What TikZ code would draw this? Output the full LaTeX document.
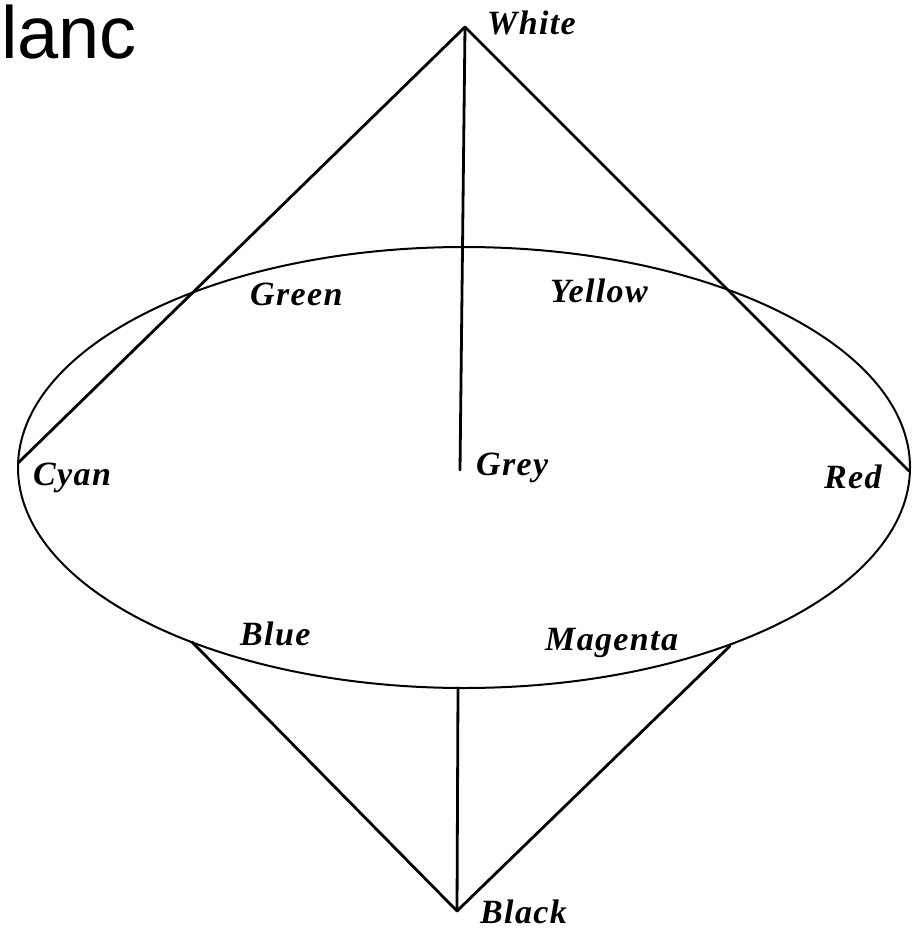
\documentclass[tikz,border=0pt]{standalone}
\usepackage{fontspec}
\setmainfont{Liberation Serif}
\newfontfamily\headfont{Liberation Sans}
\begin{document}
\begin{tikzpicture}[x=1pt,y=-1pt,
  lbl/.style={anchor=base west,inner sep=0pt,font=\fontsize{34}{34}\selectfont\bfseries\itshape\addfontfeatures{LetterSpace=4}},
  edge/.style={line width=2.8pt,line cap=round,line join=round},
  rim/.style={line width=2pt}]
\useasboundingbox (0,0) rectangle (912,929);
% points
\coordinate (white) at (465,27);
\coordinate (grey) at (460,470);
\coordinate (cyan) at (18,463);
\coordinate (red) at (909,471);
\coordinate (blue) at (192,642);
\coordinate (magenta) at (730,646);
\coordinate (bottom) at (458,688);
\coordinate (black) at (457,911);
\coordinate (ctr) at (464,467.5);
% ellipse
\draw[rim] (ctr) ellipse [x radius=446pt, y radius=220.5pt];
% cone lines
\draw[edge] (cyan) -- (white) -- (red);
\draw[edge] (white) -- (grey);
\draw[edge] (blue) -- (black) -- (magenta);
\draw[edge] (bottom) -- (black);
% labels
\node[lbl] (lwhite) at (487,34) {White};
\node[lbl] (lgreen) at (250,305) {Green};
\node[lbl] (lyellow) at (550,302) {Yellow};
\node[lbl] (lcyan) at (33,485) {Cyan};
\node[lbl] (lgrey) at (476,475) {Grey};
\node[lbl] (lred) at (824,488) {Red};
\node[lbl] (lblue) at (240,645) {Blue};
\node[lbl] (lmagenta) at (545,650) {Magenta};
\node[lbl] (lblack) at (480,923) {Black};
\node[anchor=base west,inner sep=0pt,font=\headfont\fontsize{74}{74}\selectfont] (title) at (1,58) {lanc};
\end{tikzpicture}
\end{document}
